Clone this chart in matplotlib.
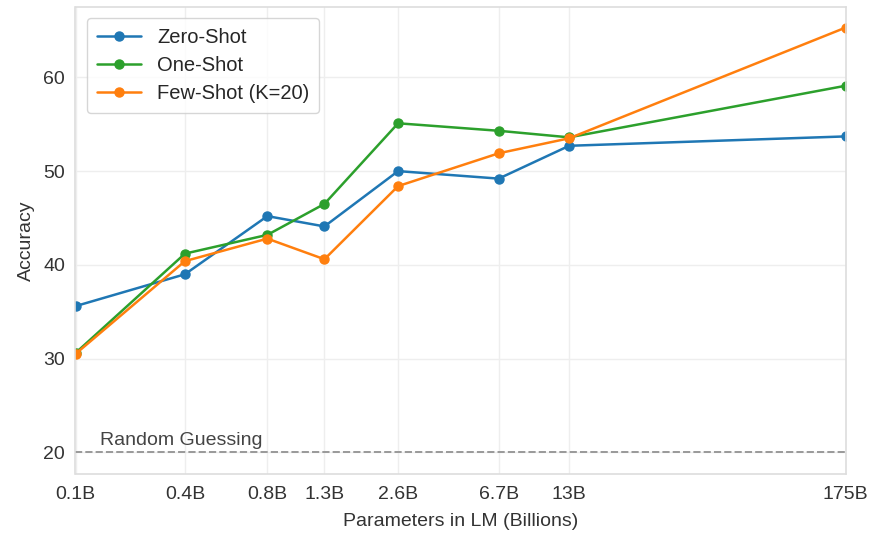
import matplotlib

matplotlib.use("Agg")

import matplotlib.pyplot as plt
import matplotlib.transforms as mtransforms
import seaborn as sns

# model sizes in billions of parameters
SIZES = [0.125, 0.35, 0.76, 1.3, 2.6, 6.7, 13, 175]
SIZE_LABELS = ["0.1B", "0.4B", "0.8B", "1.3B", "2.6B", "6.7B", "13B", "175B"]

ZERO_SHOT = [35.6, 39.0, 45.2, 44.1, 50.0, 49.2, 52.7, 53.7]
ONE_SHOT = [30.6, 41.2, 43.2, 46.5, 55.1, 54.3, 53.6, 59.1]
FEW_SHOT = [30.5, 40.4, 42.8, 40.6, 48.4, 51.9, 53.5, 65.3]

RANDOM_GUESS = 20

sns.set_style("whitegrid")
plt.rcParams["font.family"] = ["Liberation Sans", "DejaVu Sans"]

TEXT_COLOR = "#333333"
FONT_SIZE = 14

fig = plt.figure(figsize=(8.7, 5.33), dpi=100)
ax = fig.add_axes([75.5 / 870, 59 / 533, 770 / 870, 467 / 533])

series = [
    ("Zero-Shot", ZERO_SHOT, "#1f77b4"),
    ("One-Shot", ONE_SHOT, "#2ca02c"),
    ("Few-Shot (K=20)", FEW_SHOT, "#ff7f0e"),
]
for label, values, color in series:
    ax.plot(SIZES, values, marker="o", markersize=6.5, linewidth=1.8,
            color=color, label=label)

ax.axhline(RANDOM_GUESS, color="#999999", linestyle="--", linewidth=1.4)
trans = mtransforms.blended_transform_factory(ax.transAxes, ax.transData)
ax.text(0.032, RANDOM_GUESS + 0.4, "Random Guessing", transform=trans,
        ha="left", va="bottom", fontsize=FONT_SIZE, color="#444444")

ax.set_xscale("log")
ax.set_xlim(SIZES[0], SIZES[-1])
ax.set_ylim(17.7, 67.5)
ax.set_xticks(SIZES)
ax.set_xticklabels(SIZE_LABELS)
ax.xaxis.set_minor_locator(matplotlib.ticker.NullLocator())
ax.set_yticks([20, 30, 40, 50, 60])
ax.tick_params(labelsize=FONT_SIZE, colors=TEXT_COLOR)
ax.tick_params(axis="x", pad=5)
ax.tick_params(axis="y", pad=4)

ax.set_xlabel("Parameters in LM (Billions)", fontsize=FONT_SIZE,
              color=TEXT_COLOR, labelpad=7)
ax.set_ylabel("Accuracy", fontsize=FONT_SIZE, color=TEXT_COLOR, labelpad=6)

ax.grid(True, color="#eeeeee", linewidth=1.0)
for spine in ax.spines.values():
    spine.set_color("#dddddd")
    spine.set_linewidth(1.2)

ax.legend(loc="upper left", fontsize=14.5, frameon=True, borderpad=0.5,
          handlelength=2.2, labelspacing=0.45, borderaxespad=0.55)

fig.savefig("out.png", dpi=100, facecolor="white")
